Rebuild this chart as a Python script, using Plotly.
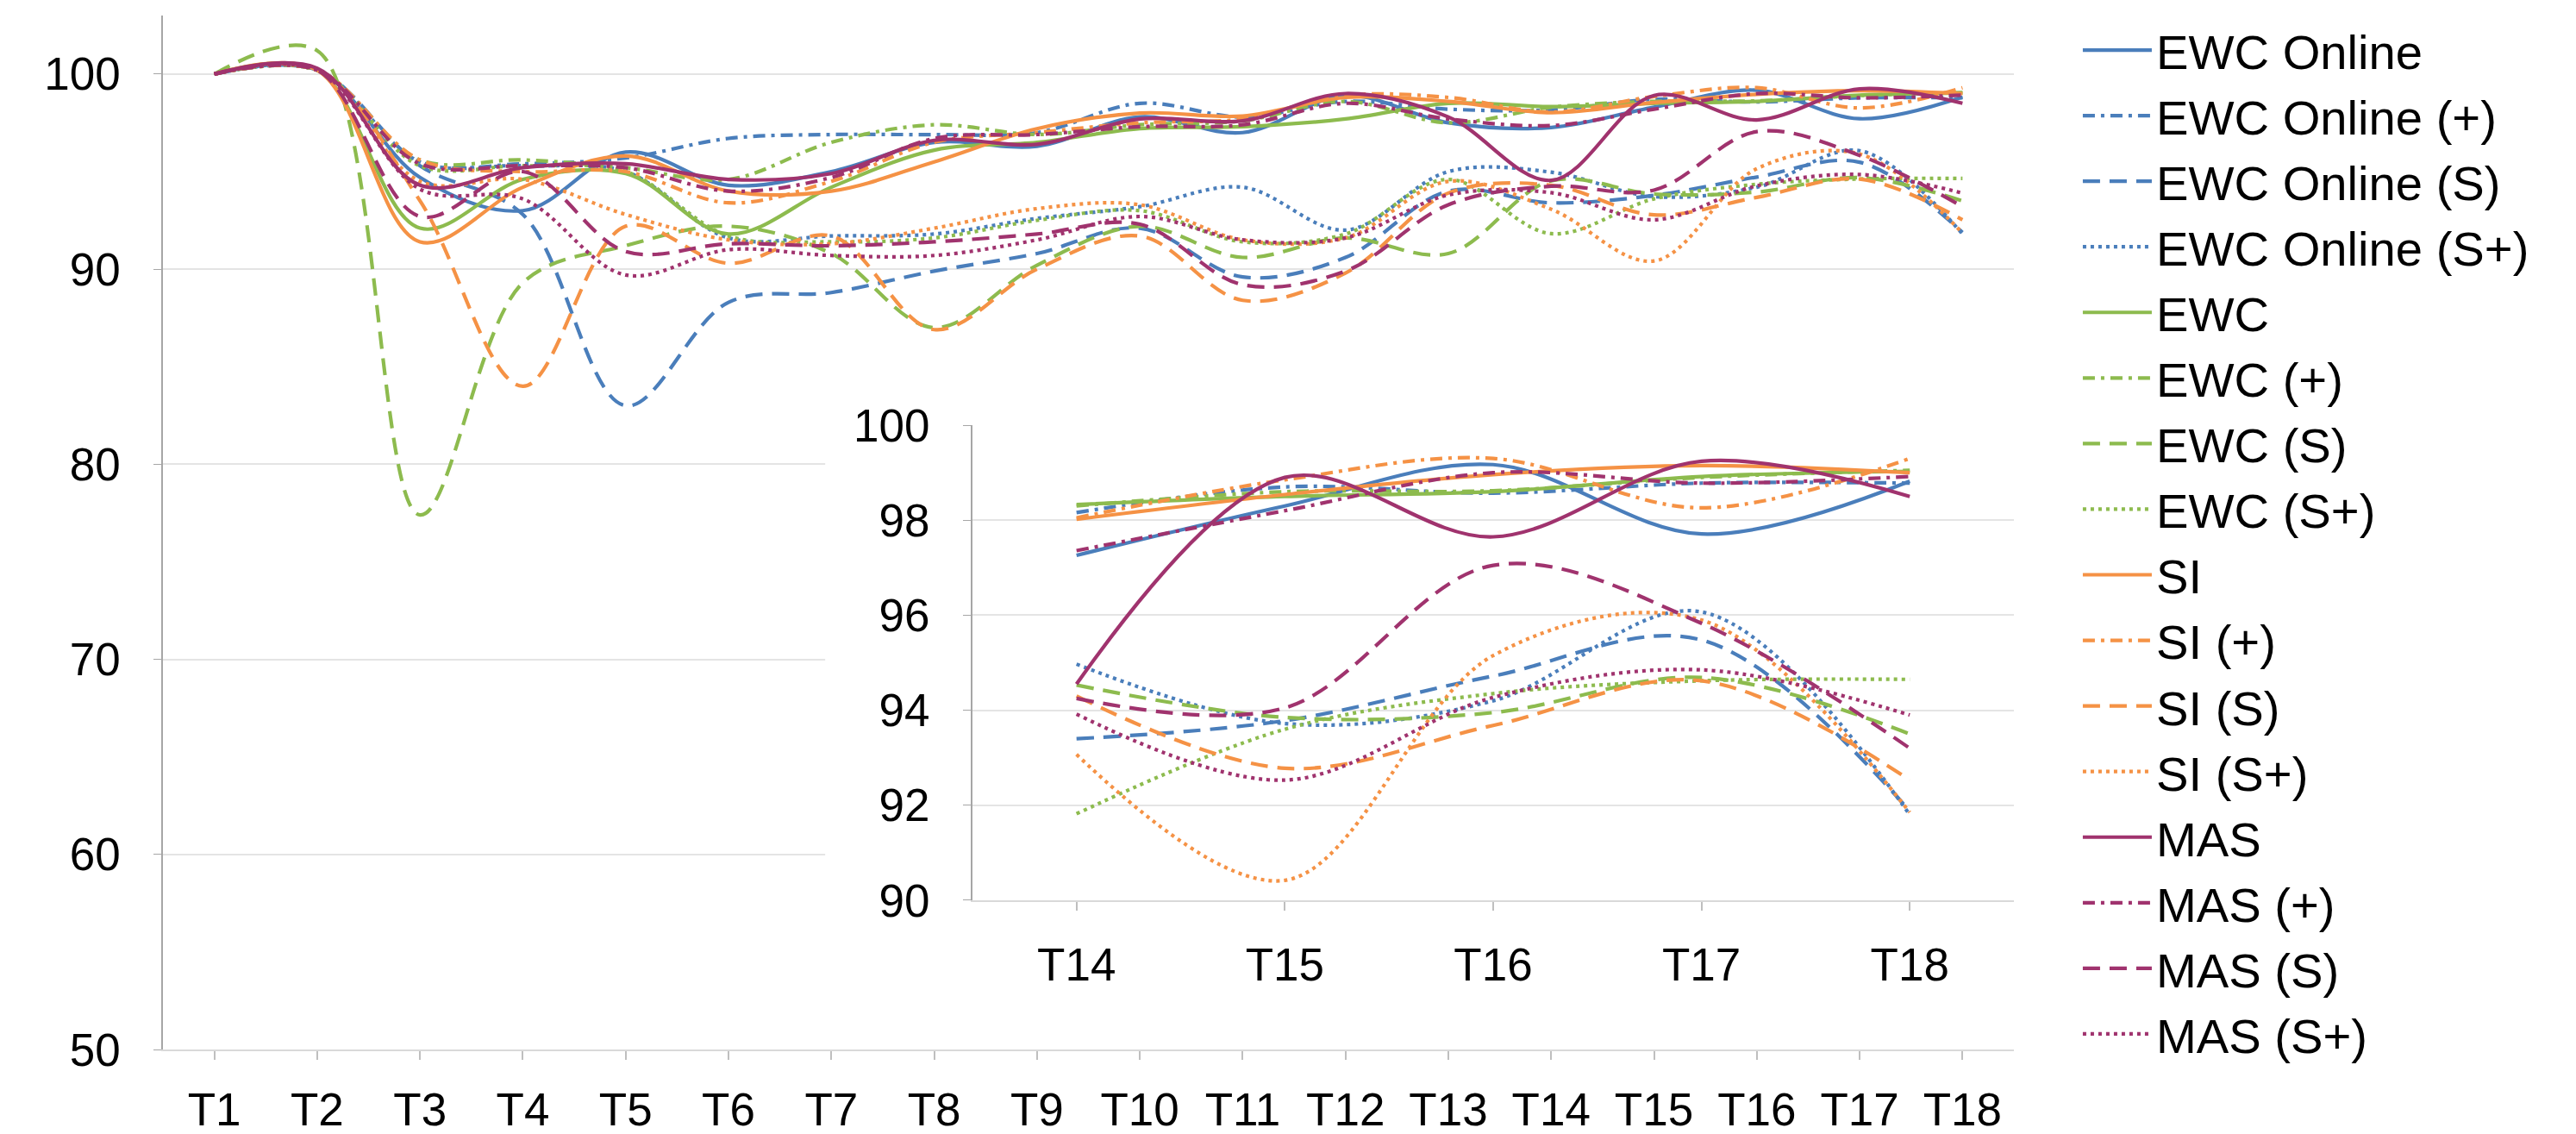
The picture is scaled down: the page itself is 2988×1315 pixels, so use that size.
import plotly.graph_objects as go

tasks = ["T1", "T2", "T3", "T4", "T5", "T6", "T7", "T8", "T9",
         "T10", "T11", "T12", "T13", "T14", "T15", "T16", "T17", "T18"]
inset_tasks = ["T14", "T15", "T16", "T17", "T18"]

y_ticks_main = [50, 60, 70, 80, 90, 100]
y_ticks_inset = [90, 92, 94, 96, 98, 100]

ewc_online       = [100, 100.2, 94.7, 93.0, 96.0, 94.3, 95.0, 96.5, 96.3, 97.8, 97.0, 98.9, 97.5, 97.26, 98.3, 99.17, 97.71, 98.82]
ewc_online_plus  = [100, 100.2, 95.5, 95.4, 95.7, 96.7, 96.9, 96.9, 97.0, 98.5, 97.8, 98.6, 98.2, 98.16, 98.7, 98.57, 98.78, 98.78]
ewc_online_s     = [100, 100.2, 95.3, 92.8, 83.0, 88.3, 88.8, 89.9, 90.8, 92.1, 89.6, 90.6, 94.0, 93.4, 93.78, 94.72, 95.48, 91.88]
ewc_online_splus = [100, 100.2, 95.5, 95.3, 95.0, 91.6, 91.7, 91.8, 92.6, 93.2, 94.2, 92.0, 95.0, 94.97, 93.72, 94.2, 96.07, 91.8]
ewc              = [100, 100.2, 92.1, 94.6, 94.9, 91.8, 94.2, 96.1, 96.5, 97.2, 97.3, 97.7, 98.5, 98.33, 98.5, 98.6, 98.92, 99.03]
ewc_plus         = [100, 100.2, 95.6, 95.6, 95.2, 94.6, 96.5, 97.4, 96.9, 97.4, 97.6, 98.6, 97.5, 98.3, 98.6, 98.62, 98.9, 99.05]
ewc_s            = [100, 101.2, 77.4, 89.3, 91.2, 92.2, 90.8, 87.0, 90.2, 92.2, 90.6, 91.6, 90.8, 94.53, 93.85, 93.95, 94.69, 93.5]
ewc_splus        = [100, 100.2, 95.3, 95.3, 95.0, 91.7, 91.4, 91.6, 92.5, 93.0, 91.4, 91.8, 94.6, 91.82, 93.6, 94.35, 94.62, 94.65]
si               = [100, 100.2, 91.4, 94.2, 95.8, 94.0, 94.0, 95.5, 97.2, 98.0, 97.85, 98.8, 98.6, 98.02, 98.54, 98.96, 99.15, 99.0]
si_plus          = [100, 100.2, 95.6, 95.0, 95.0, 93.4, 94.5, 96.5, 97.0, 97.5, 97.7, 98.9, 98.8, 98.05, 98.85, 99.3, 98.26, 99.3]
si_s             = [100, 100.2, 93.5, 84.0, 92.2, 90.3, 91.7, 86.9, 90.0, 91.7, 88.4, 89.8, 93.9, 94.3, 92.78, 93.68, 94.62, 92.53]
si_splus         = [100, 100.2, 94.5, 94.6, 92.8, 91.5, 91.3, 92.1, 93.1, 93.3, 91.5, 91.6, 94.5, 93.07, 90.42, 95.15, 95.9, 91.85]
mas              = [100, 100.3, 94.3, 95.2, 95.4, 94.6, 94.9, 96.6, 96.4, 97.7, 97.6, 99.0, 97.8, 94.55, 98.9, 97.65, 99.24, 98.5]
mas_plus         = [100, 100.2, 95.4, 95.3, 95.2, 94.0, 94.7, 96.7, 96.9, 97.3, 97.4, 98.5, 97.7, 97.36, 98.2, 99.0, 98.78, 98.92]
mas_s            = [100, 100.2, 92.7, 95.0, 90.9, 91.3, 91.2, 91.4, 91.8, 92.3, 89.2, 89.9, 93.3, 94.25, 94.05, 97.05, 95.83, 93.2]
mas_splus        = [100, 100.2, 94.1, 93.6, 89.7, 91.0, 90.7, 90.7, 91.5, 92.7, 91.5, 91.6, 93.8, 93.92, 92.53, 94.27, 94.85, 93.9]

BLUE, GREEN, ORANGE, PURPLE = "#4A7EBB", "#8DBB4E", "#F59245", "#A0336E"
SOLID, DASHDOT, DASH, DOT = "solid", "14px,7px,4px,7px", "20px,11px", "4px,5px"

series = [
    ("EWC Online", ewc_online, BLUE, SOLID),
    ("EWC Online (+)", ewc_online_plus, BLUE, DASHDOT),
    ("EWC Online (S)", ewc_online_s, BLUE, DASH),
    ("EWC Online (S+)", ewc_online_splus, BLUE, DOT),
    ("EWC", ewc, GREEN, SOLID),
    ("EWC (+)", ewc_plus, GREEN, DASHDOT),
    ("EWC (S)", ewc_s, GREEN, DASH),
    ("EWC (S+)", ewc_splus, GREEN, DOT),
    ("SI", si, ORANGE, SOLID),
    ("SI (+)", si_plus, ORANGE, DASHDOT),
    ("SI (S)", si_s, ORANGE, DASH),
    ("SI (S+)", si_splus, ORANGE, DOT),
    ("MAS", mas, PURPLE, SOLID),
    ("MAS (+)", mas_plus, PURPLE, DASHDOT),
    ("MAS (S)", mas_s, PURPLE, DASH),
    ("MAS (S+)", mas_splus, PURPLE, DOT),
]

FONT = "Liberation Sans, Arial, sans-serif"
fig = go.Figure()

for name, vals, color, dash in series:
    fig.add_trace(go.Scatter(
        x=tasks, y=vals, name=name, mode="lines",
        line=dict(color=color, width=4.2, dash=dash, shape="spline"),
        xaxis="x", yaxis="y"))

n_inset = len(inset_tasks)
for name, vals, color, dash in series:
    fig.add_trace(go.Scatter(
        x=inset_tasks, y=vals[-n_inset:], name=name, mode="lines",
        line=dict(color=color, width=4.2, dash=dash, shape="spline"),
        showlegend=False, xaxis="x2", yaxis="y2"))

# white panel behind the inset, hiding the main gridlines there
fig.add_shape(type="rect", xref="x", yref="y", layer="between",
              x0=5.94, x1=17.6, y0=52.1, y1=84.0,
              fillcolor="white", line=dict(width=0))

GRID = "#E4E4E4"
fig.update_layout(
    width=2988, height=1315, autosize=False,
    margin=dict(l=181, r=660, t=10, b=106, autoexpand=False),
    paper_bgcolor="white", plot_bgcolor="white",
    font=dict(family=FONT, size=53, color="#000000"),
    showlegend=True,
    legend=dict(x=1.0349, xanchor="left", y=1.0025, yanchor="top",
                font=dict(family=FONT, size=56.2, color="#000000"),
                itemwidth=80, tracegroupgap=0, bgcolor="rgba(0,0,0,0)",
                maxheight=1310),
    xaxis=dict(type="category", categoryorder="array", categoryarray=tasks,
               range=[-0.5, 17.5], domain=[0, 1], showgrid=False,
               showline=True, linecolor="#D9D9D9", linewidth=2,
               ticks="outside", ticklen=10, tickcolor="#BFBFBF", tickwidth=1.5,
               ticklabelstandoff=12, tickfont=dict(size=53), fixedrange=True),
    yaxis=dict(range=[50, 103], domain=[0, 1], tickvals=y_ticks_main,
               showgrid=True, gridcolor=GRID, gridwidth=2, zeroline=False,
               showline=True, linecolor="#A6A6A6", linewidth=1.5,
               ticks="outside", ticklen=9, tickcolor="#A6A6A6",
               ticklabelstandoff=28, tickfont=dict(size=53), fixedrange=True),
    xaxis2=dict(type="category", categoryorder="array", categoryarray=inset_tasks,
                range=[-0.5, 4.5], domain=[0.4373, 1.0], anchor="y2",
                showgrid=False, showline=True, linecolor="#D9D9D9", linewidth=2,
                ticks="outside", ticklen=10, tickcolor="#BFBFBF", tickwidth=1.5,
                ticklabelstandoff=17, tickfont=dict(size=53), fixedrange=True),
    yaxis2=dict(range=[90, 100], domain=[0.1443, 0.6038], anchor="x2",
                tickvals=y_ticks_inset, showgrid=True, gridcolor=GRID, gridwidth=2,
                zeroline=False, showline=True, linecolor="#A6A6A6", linewidth=1.5,
                ticks="outside", ticklen=9, tickcolor="#A6A6A6",
                ticklabelstandoff=28, tickfont=dict(size=53), fixedrange=True),
)

fig.write_html("out.html")
